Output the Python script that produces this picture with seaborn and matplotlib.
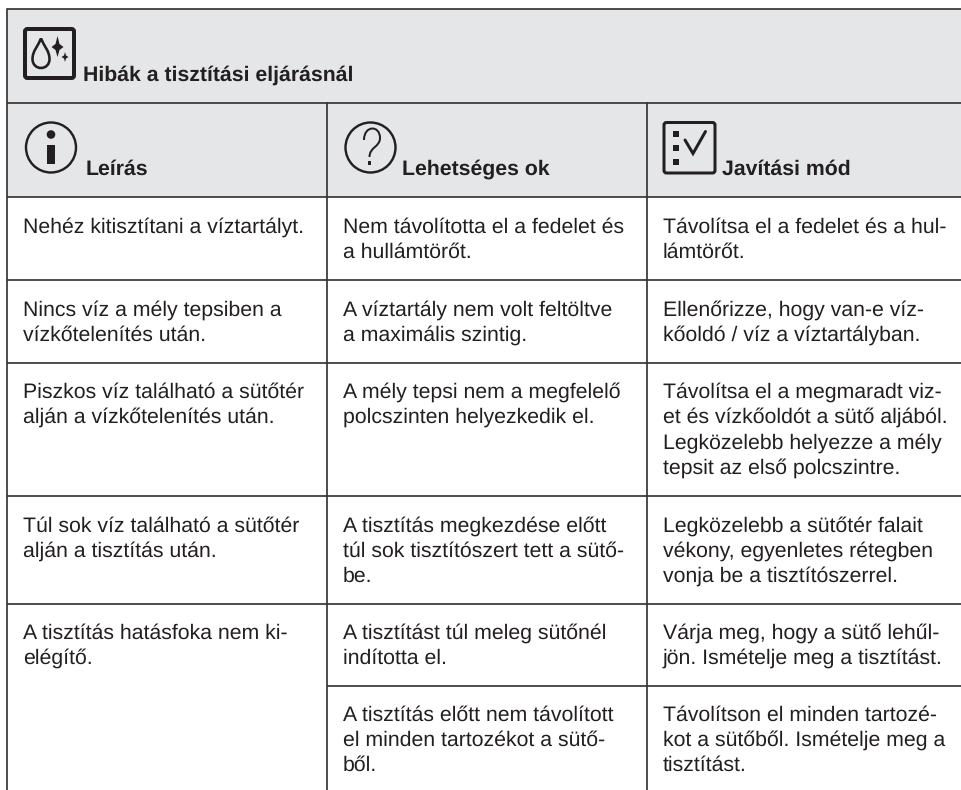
import matplotlib
matplotlib.use("Agg")
import matplotlib.pyplot as plt
import seaborn as sns
from matplotlib.patches import Rectangle, FancyBboxPatch, Circle, Polygon, PathPatch
from matplotlib.path import Path

sns.set_theme(style="white")
plt.rcParams['font.family'] = ['Liberation Sans', 'DejaVu Sans']
plt.rcParams['text.hinting'] = 'no_hinting'
plt.rcParams['text.hinting_factor'] = 8

title = "Hibák a tisztítási eljárásnál"
headers = ["Leírás", "Lehetséges ok", "Javítási mód"]
header_x = [86, 402, 722]

col_left = [23, 343, 663]
col_lines = [7, 327, 647]
full_rules = [9, 102.5, 197, 280, 362.5, 495.5, 603.5]
partial_rule = 686

# (column, first baseline, lines)
cells = [
    (0, 233, ["Nehéz kitisztítani a víztartályt."]),
    (1, 233, ["Nem távolította el a fedelet és", "a hullámtörőt."]),
    (2, 233, ["Távolítsa el a fedelet és a hul-", "lámtörőt."]),
    (0, 316, ["Nincs víz a mély tepsiben a", "vízkőtelenítés után."]),
    (1, 316, ["A víztartály nem volt feltöltve", "a maximális szintig."]),
    (2, 316, ["Ellenőrizze, hogy van-e víz-", "kőoldó / víz a víztartályban."]),
    (0, 398, ["Piszkos víz található a sütőtér", "alján a vízkőtelenítés után."]),
    (1, 398, ["A mély tepsi nem a megfelelő", "polcszinten helyezkedik el."]),
    (2, 398, ["Távolítsa el a megmaradt viz-", "et és vízkőoldót a sütő aljából.",
              "Legközelebb helyezze a mély", "tepsit az első polcszintre."]),
    (0, 531.5, ["Túl sok víz található a sütőtér", "alján a tisztítás után."]),
    (1, 531.5, ["A tisztítás megkezdése előtt", "túl sok tisztítószert tett a sütő-", "be."]),
    (2, 531.5, ["Legközelebb a sütőtér falait", "vékony, egyenletes rétegben", "vonja be a tisztítószerrel."]),
    (0, 639, ["A tisztítás hatásfoka nem ki-", "elégítő."]),
    (1, 639, ["A tisztítást túl meleg sütőnél", "indította el."]),
    (2, 639, ["Várja meg, hogy a sütő lehűl-", "jön. Ismételje meg a tisztítást."]),
    (1, 721, ["A tisztítás előtt nem távolított", "el minden tartozékot a sütő-", "ből."]),
    (2, 721, ["Távolítson el minden tartozé-", "kot a sütőből. Ismételje meg a", "tisztítást."]),
]

INK = "#231f20"
RULE = "#333333"
BAND = "#e5e6e8"
W, H = 962, 790
px = 0.72
pitch = 25.1
FS = 15.35
FS_BOLD = 15.35
RULE_W = 1.7 * px

fig = plt.figure(figsize=(W / 100, H / 100), dpi=100, facecolor="white")
ax = fig.add_axes([0, 0, 1, 1])
ax.set_xlim(0, W)
ax.set_ylim(H, 0)
ax.axis("off")

ax.add_patch(Rectangle((col_lines[0], full_rules[0]), W - col_lines[0], full_rules[2] - full_rules[0],
                       fc=BAND, ec="none", zorder=0))

# rules
for y in full_rules:
    ax.plot([col_lines[0], W], [y, y], color=RULE, lw=RULE_W, solid_capstyle="butt", zorder=1)
ax.plot([col_lines[1], W], [partial_rule, partial_rule], color=RULE, lw=RULE_W, solid_capstyle="butt", zorder=1)
ax.plot([col_lines[0], col_lines[0]], [full_rules[0], H], color=RULE, lw=RULE_W, zorder=2)
for x in col_lines[1:]:
    ax.plot([x, x], [full_rules[1], H], color=RULE, lw=RULE_W, zorder=2)

# text
ax.text(83, 81, title, fontsize=FS_BOLD, fontweight="bold", color=INK, va="baseline")
for x, t in zip(header_x, headers):
    ax.text(x, 175, t, fontsize=FS_BOLD, fontweight="bold", color=INK, va="baseline")
for col, base, lines in cells:
    for i, line in enumerate(lines):
        ax.text(col_left[col], base + i * pitch, line, fontsize=FS, color=INK, va="baseline")

# icon: cleaning
ax.add_patch(FancyBboxPatch((25, 29), 49, 49, boxstyle="round,pad=0,rounding_size=2.5",
                            fc="none", ec=INK, lw=4 * px, zorder=3))
drop = Path([(41, 38.5), (38, 46), (32.5, 51), (32.5, 59), (32.5, 71), (49.5, 71), (49.5, 59), (49.5, 51), (44, 46), (41, 38.5)],
            [Path.MOVETO, Path.CURVE4, Path.CURVE4, Path.CURVE4, Path.CURVE4, Path.CURVE4, Path.CURVE4,
             Path.CURVE4, Path.CURVE4, Path.CURVE4])
ax.add_patch(PathPatch(drop, fc="none", ec=INK, lw=2.6 * px, zorder=3))
ax.add_patch(Polygon([(57.5, 36), (59.5, 44), (63.5, 47), (59.5, 50), (57.5, 57), (55.5, 50), (51.5, 47), (55.5, 44)],
                     fc=INK, ec="none", zorder=3))
ax.add_patch(Polygon([(65, 52), (66, 55.5), (68.5, 57), (66, 58.5), (65, 62), (64, 58.5), (61.5, 57), (64, 55.5)],
                     fc=INK, ec="none", zorder=3))

# icon: info
ax.add_patch(Circle((51, 147.5), 25, fc="none", ec=INK, lw=2.4 * px, zorder=3))
ax.add_patch(Circle((51, 134.5), 4.3, fc=INK, ec="none", zorder=3))
ax.add_patch(Rectangle((47.5, 145), 7.5, 19, fc=INK, ec="none", zorder=3))

# icon: question
ax.add_patch(Circle((370.5, 147.5), 25, fc="none", ec=INK, lw=2.4 * px, zorder=3))
q = Path([(364, 140), (364, 125), (380, 125), (380, 138), (380, 147), (369.5, 147), (369.5, 157)],
         [Path.MOVETO, Path.CURVE4, Path.CURVE4, Path.CURVE4, Path.CURVE4, Path.CURVE4, Path.CURVE4])
ax.add_patch(PathPatch(q, fc="none", ec=INK, lw=2 * px, zorder=3))
ax.add_patch(Rectangle((367.8, 161), 3.6, 4, fc=INK, ec="none", zorder=3))

# icon: checklist
ax.add_patch(FancyBboxPatch((664, 122.5), 51, 50.5, boxstyle="round,pad=0,rounding_size=2.5",
                            fc="none", ec=INK, lw=3 * px, zorder=3))
for y in (133.5, 147.5, 161.5):
    ax.add_patch(Rectangle((673.5, y - 2.5), 5.5, 5.5, fc=INK, ec="none", zorder=3))
ax.plot([685, 693, 705.5], [140, 153.5, 131.5], color=INK, lw=3 * px, solid_joinstyle="miter", zorder=3)

fig.savefig("out.png", dpi=100, facecolor="white")
